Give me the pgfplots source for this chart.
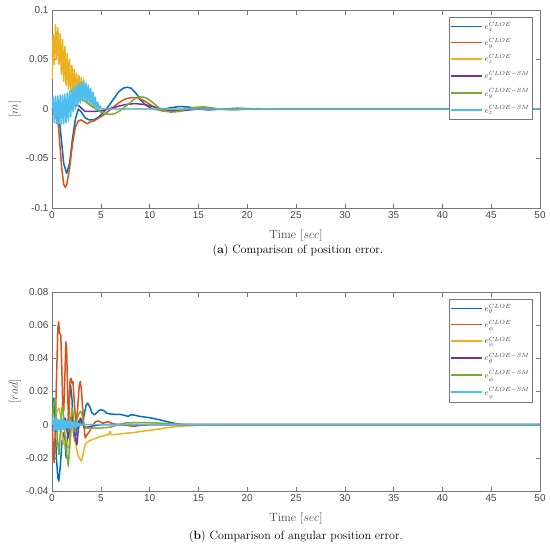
\documentclass[border=0pt]{standalone}
\usepackage{pgfplots}
\pgfplotsset{compat=1.18}
\usepackage{fontspec}
\newfontfamily\tickfont{Liberation Sans}
\definecolor{c1}{RGB}{0,114,189}
\definecolor{c2}{RGB}{217,83,25}
\definecolor{c3}{RGB}{237,177,32}
\definecolor{c4}{RGB}{126,47,142}
\definecolor{c5}{RGB}{119,172,48}
\definecolor{c6}{RGB}{77,190,238}
\definecolor{axgray}{RGB}{120,120,120}
\definecolor{labgray}{RGB}{70,70,70}
\pgfplotsset{
 myax/.style={scale only axis, width=488bp, xmin=0, xmax=50,
  xtick={0,5,10,15,20,25,30,35,40,45,50},
  xticklabels={0,5,10,15,20,25,30,35,40,45,50},
  scaled ticks=false, tick align=inside, major tick length=4.5bp,
  axis line style={draw=axgray, line width=0.5pt},
  tick style={draw=axgray, line width=0.5pt},
  ticklabel style={font=\tickfont\fontsize{10}{12}\selectfont, text=labgray},
  label style={text=labgray, font=\fontsize{12}{14}\selectfont},
  xlabel={Time [$sec$]},
  xlabel style={at={(axis description cs:0.5,0)}, anchor=center, yshift=-28bp},
  ylabel style={at={(axis description cs:-0.076,0.5)}, anchor=center},
  legend cell align=left,
  legend style={at={(rel axis cs:0.984,0.965)}, anchor=north east, draw=axgray, fill=white,
    font=\fontsize{8.5}{10}\selectfont, text=labgray, row sep=4bp, inner xsep=1bp, inner ysep=3bp,
    nodes={inner xsep=1.5bp}},
  legend image code/.code={\draw[##1, line width=1.5pt] (0bp,0bp) -- (31bp,0bp);},
  every axis plot/.append style={line width=1.5pt, no markers, line join=round},
 }
}
\begin{document}
\begin{tikzpicture}
\useasboundingbox (0bp,0bp) rectangle (550bp,-553bp);
\begin{axis}[myax, at={(52bp,-10bp)}, anchor=north west, height=198bp,
  ymin=-0.1, ymax=0.1, ytick={-0.1,-0.05,0,0.05,0.1},
  yticklabels={{-0.1},{-0.05},{0},{0.05},{0.1}},
  ylabel={[$m$]},
  legend entries={$e_x^{CLOE}$,$e_y^{CLOE}$,$e_z^{CLOE}$,$e_x^{CLOE-SM}$,$e_y^{CLOE-SM}$,$e_z^{CLOE-SM}$}]
\addplot[c1] coordinates {(0,0) (0.5,-0.002) (0.8,-0.015) (1.0,-0.035) (1.2,-0.055) (1.5,-0.065) (1.8,-0.055) (2.1,-0.03) (2.4,-0.01) (2.7,0.0) (3.0,-0.003) (3.4,-0.009) (3.8,-0.011) (4.3,-0.011) (4.8,-0.008) (5.3,-0.003) (5.8,0.003) (6.3,0.010) (6.8,0.017) (7.3,0.021) (7.7,0.022) (8.1,0.021) (8.6,0.016) (9.1,0.009) (9.6,0.004) (10.3,0.0) (11,-0.001) (12,0.001) (13,0.0025) (14,0.002) (15,0) (16,-0.001) (17.5,0) (19,0.0008) (21,0) (50,0)};
\addplot[c2] coordinates {(0,0) (0.4,0) (0.6,-0.01) (0.8,-0.035) (1.0,-0.06) (1.2,-0.076) (1.35,-0.079) (1.5,-0.077) (1.8,-0.06) (2.1,-0.035) (2.4,-0.018) (2.7,-0.012) (3.0,-0.011) (3.3,-0.013) (3.6,-0.015) (3.9,-0.013) (4.3,-0.012) (4.8,-0.009) (5.3,-0.006) (5.8,-0.002) (6.3,0.002) (6.8,0.006) (7.3,0.009) (7.8,0.011) (8.3,0.0115) (8.8,0.011) (9.3,0.009) (9.8,0.006) (10.3,0.003) (10.8,0.0) (11.3,-0.002) (12,-0.0025) (12.8,-0.002) (13.5,-0.0005) (14.5,0.0008) (15.5,0.001) (16.5,0) (50,0)};
\addplot[c3] coordinates {(0,0.03) (0.12,0.075) (0.24,0.045) (0.36,0.085) (0.48,0.05) (0.60,0.082) (0.72,0.045) (0.84,0.076) (0.96,0.035) (1.08,0.07) (1.20,0.028) (1.32,0.063) (1.44,0.024) (1.56,0.056) (1.68,0.02) (1.80,0.05) (1.92,0.017) (2.04,0.044) (2.16,0.015) (2.28,0.04) (2.40,0.013) (2.52,0.036) (2.64,0.012) (2.76,0.034) (2.88,0.011) (3.00,0.032) (3.12,0.01) (3.24,0.03) (3.36,0.008) (3.48,0.026) (3.60,0.006) (3.72,0.022) (3.84,0.005) (3.96,0.017) (4.08,0.003) (4.20,0.012) (4.32,0.002) (4.44,0.008) (4.56,0.001) (4.68,0.005) (4.80,0.0005) (4.92,0.003) (5.04,0.0005) (5.4,0) (50,0)};
\addplot[c4] coordinates {(0,0) (0.6,0.003) (1.2,-0.003) (1.8,0.004) (2.4,0.004) (2.8,0.003) (3.1,0.0) (3.4,-0.0025) (4,-0.0025) (5,-0.002) (5.8,0) (6.5,0.002) (7.5,0.0045) (8.5,0.0055) (9.5,0.0045) (10.5,0.002) (11.3,0) (12,-0.0015) (13,-0.0022) (14,-0.001) (15,0) (50,0)};
\addplot[c5] coordinates {(0,0) (0.5,0.004) (1,-0.004) (1.5,0.006) (2,0.004) (2.5,0.01) (3,0.01) (3.5,0.007) (4,0.003) (4.5,0.0) (5,-0.003) (5.5,-0.005) (6,-0.0055) (6.5,-0.0045) (7,-0.0015) (7.5,0.0025) (8,0.0065) (8.5,0.0105) (9,0.0122) (9.5,0.0118) (10,0.009) (10.5,0.005) (11,0.001) (11.5,-0.0018) (12.2,-0.0032) (13,-0.0025) (13.7,-0.0003) (14.5,0.0015) (15.5,0.0023) (16.5,0.001) (17.5,-0.0005) (18.5,-0.001) (19.5,-0.0005) (21,0.0003) (23,0) (50,0)};
\addplot[c6] coordinates {(0,0) (0.12,0.012) (0.24,-0.014) (0.36,0.013) (0.48,-0.015) (0.60,0.013) (0.72,-0.015) (0.84,0.014) (0.96,-0.015) (1.08,0.014) (1.20,-0.015) (1.32,0.015) (1.44,-0.014) (1.56,0.016) (1.68,-0.012) (1.80,0.018) (1.92,-0.008) (2.04,0.02) (2.16,-0.003) (2.28,0.022) (2.40,0.0) (2.52,0.024) (2.64,0.003) (2.76,0.026) (2.88,0.006) (3.00,0.027) (3.12,0.008) (3.24,0.028) (3.36,0.009) (3.48,0.026) (3.60,0.008) (3.72,0.024) (3.84,0.006) (3.96,0.021) (4.08,0.004) (4.20,0.017) (4.32,0.002) (4.44,0.012) (4.56,0.0) (4.68,0.007) (4.80,-0.001) (4.92,0.003) (5.04,0) (5.4,0) (50,0)};
\end{axis}
\node[font=\fontsize{12}{14}\selectfont] at (298bp,-251bp) {(\textbf{a}) Comparison of position error.};
\begin{axis}[myax, at={(52bp,-292bp)}, anchor=north west, height=199bp,
  ymin=-0.04, ymax=0.08, ytick={-0.04,-0.02,0,0.02,0.04,0.06,0.08},
  yticklabels={{-0.04},{-0.02},{0},{0.02},{0.04},{0.06},{0.08}},
  ylabel={[$rad$]},
  legend entries={$e_\theta^{CLOE}$,$e_\phi^{CLOE}$,$e_\psi^{CLOE}$,$e_\theta^{CLOE-SM}$,$e_\phi^{CLOE-SM}$,$e_\psi^{CLOE-SM}$}]
\addplot[c1] coordinates {(0,0) (0.1,0.01) (0.2,0.016) (0.3,0.005) (0.45,-0.02) (0.6,-0.032) (0.7,-0.034) (0.85,-0.025) (1.0,-0.012) (1.15,-0.005) (1.3,-0.008) (1.45,-0.02) (1.6,-0.005) (1.75,0.015) (1.9,0.024) (2.05,0.015) (2.2,-0.005) (2.35,-0.01) (2.5,-0.004) (2.7,0.002) (2.9,0.003) (3.1,0.0) (3.3,0.006) (3.5,0.012) (3.65,0.013) (3.85,0.011) (4.1,0.007) (4.4,0.006) (4.7,0.008) (5.0,0.009) (5.3,0.0085) (5.6,0.007) (6.0,0.0064) (6.5,0.0062) (7.0,0.0062) (7.5,0.0055) (7.8,0.005) (8.1,0.006) (8.4,0.0058) (9.0,0.005) (10,0.0042) (11,0.003) (11.8,0.0018) (12.8,0.0005) (13.5,0.0) (50,0)};
\addplot[c2] coordinates {(0,0) (0.1,-0.01) (0.22,-0.023) (0.3,-0.01) (0.45,0.025) (0.6,0.058) (0.68,0.062) (0.78,0.055) (0.9,0.054) (1.0,0.035) (1.1,0.012) (1.2,0.008) (1.3,0.025) (1.42,0.05) (1.5,0.046) (1.62,0.015) (1.72,0.002) (1.85,0.027) (1.95,0.028) (2.05,0.025) (2.15,0.026) (2.3,0.012) (2.45,0.001) (2.6,0.008) (2.8,0.024) (2.9,0.026) (3.0,0.022) (3.2,0.005) (3.4,-0.008) (3.6,-0.006) (3.85,-0.004) (4.2,0.0) (4.5,0.002) (4.8,0.0022) (5.2,0.0008) (5.5,0.0015) (5.8,0.0018) (6.2,0.0005) (7,0.0) (7.8,-0.0005) (8.3,-0.001) (9,-0.0005) (10,0) (50,0)};
\addplot[c3] coordinates {(0,0) (0.3,0.002) (0.5,0.008) (0.7,0.01) (0.85,0.006) (1.0,-0.004) (1.2,-0.012) (1.4,-0.008) (1.6,-0.012) (1.8,-0.015) (2.0,-0.002) (2.15,0.003) (2.3,-0.006) (2.5,-0.014) (2.7,-0.019) (2.9,-0.021) (3.0,-0.022) (3.15,-0.019) (3.3,-0.014) (3.5,-0.011) (3.7,-0.0103) (3.9,-0.0095) (4.2,-0.0088) (4.5,-0.0082) (4.9,-0.0072) (5.3,-0.0068) (5.6,-0.006) (5.8,-0.0062) (5.95,-0.004) (6.1,-0.006) (6.7,-0.0058) (7.5,-0.0052) (8.3,-0.0048) (9.2,-0.004) (10,-0.0034) (11,-0.0026) (11.8,-0.0018) (12.8,-0.0011) (13.5,-0.0008) (15.2,-0.0004) (17,0) (50,0)};
\addplot[c4] coordinates {(0,0) (0.25,-0.003) (0.5,-0.004) (0.75,0.002) (1.0,-0.002) (1.2,0.003) (1.36,0.004) (1.55,-0.004) (1.7,-0.008) (1.85,0.0) (2.04,0.006) (2.2,0.0) (2.4,-0.008) (2.55,-0.012) (2.7,-0.003) (2.9,0.004) (3.1,0.002) (3.3,-0.002) (3.6,-0.0015) (4.2,-0.0008) (5,0) (50,0)};
\addplot[c5] coordinates {(0,0) (0.15,0.012) (0.3,0.016) (0.45,0.002) (0.6,-0.012) (0.72,-0.018) (0.85,-0.005) (1.0,0.01) (1.12,0.011) (1.25,0.0) (1.4,-0.012) (1.55,-0.02) (1.68,-0.025) (1.8,-0.012) (1.95,0.005) (2.05,0.01) (2.2,0.004) (2.35,-0.004) (2.5,0.002) (2.7,0.006) (2.9,0.008) (3.05,0.007) (3.25,0.0) (3.5,-0.002) (4,-0.0022) (5,-0.002) (6,-0.0015) (6.8,0.0) (7.5,0.001) (8.5,0.0012) (10,0.0012) (11.5,0.0008) (13,0.0003) (15,0) (50,0)};
\addplot[c6] coordinates {(0,0) (0.1,0.003) (0.2,-0.004) (0.3,0.004) (0.4,-0.003) (0.5,0.004) (0.6,-0.004) (0.7,0.003) (0.8,-0.003) (0.9,0.003) (1.0,-0.003) (1.1,0.003) (1.2,-0.003) (1.3,0.0025) (1.4,-0.0025) (1.5,0.0025) (1.6,-0.002) (1.7,0.002) (1.8,-0.002) (1.9,0.002) (2.0,-0.002) (2.1,0.0015) (2.2,-0.0015) (2.3,0.0015) (2.4,-0.0012) (2.5,0.0012) (2.6,-0.001) (2.7,0.001) (2.8,-0.0008) (2.9,0.0008) (3.0,-0.0005) (3.2,0.0005) (3.4,0) (50,0)};
\end{axis}
\node[font=\fontsize{12}{14}\selectfont] at (296bp,-537bp) {(\textbf{b}) Comparison of angular position error.};
\end{tikzpicture}
\end{document}
